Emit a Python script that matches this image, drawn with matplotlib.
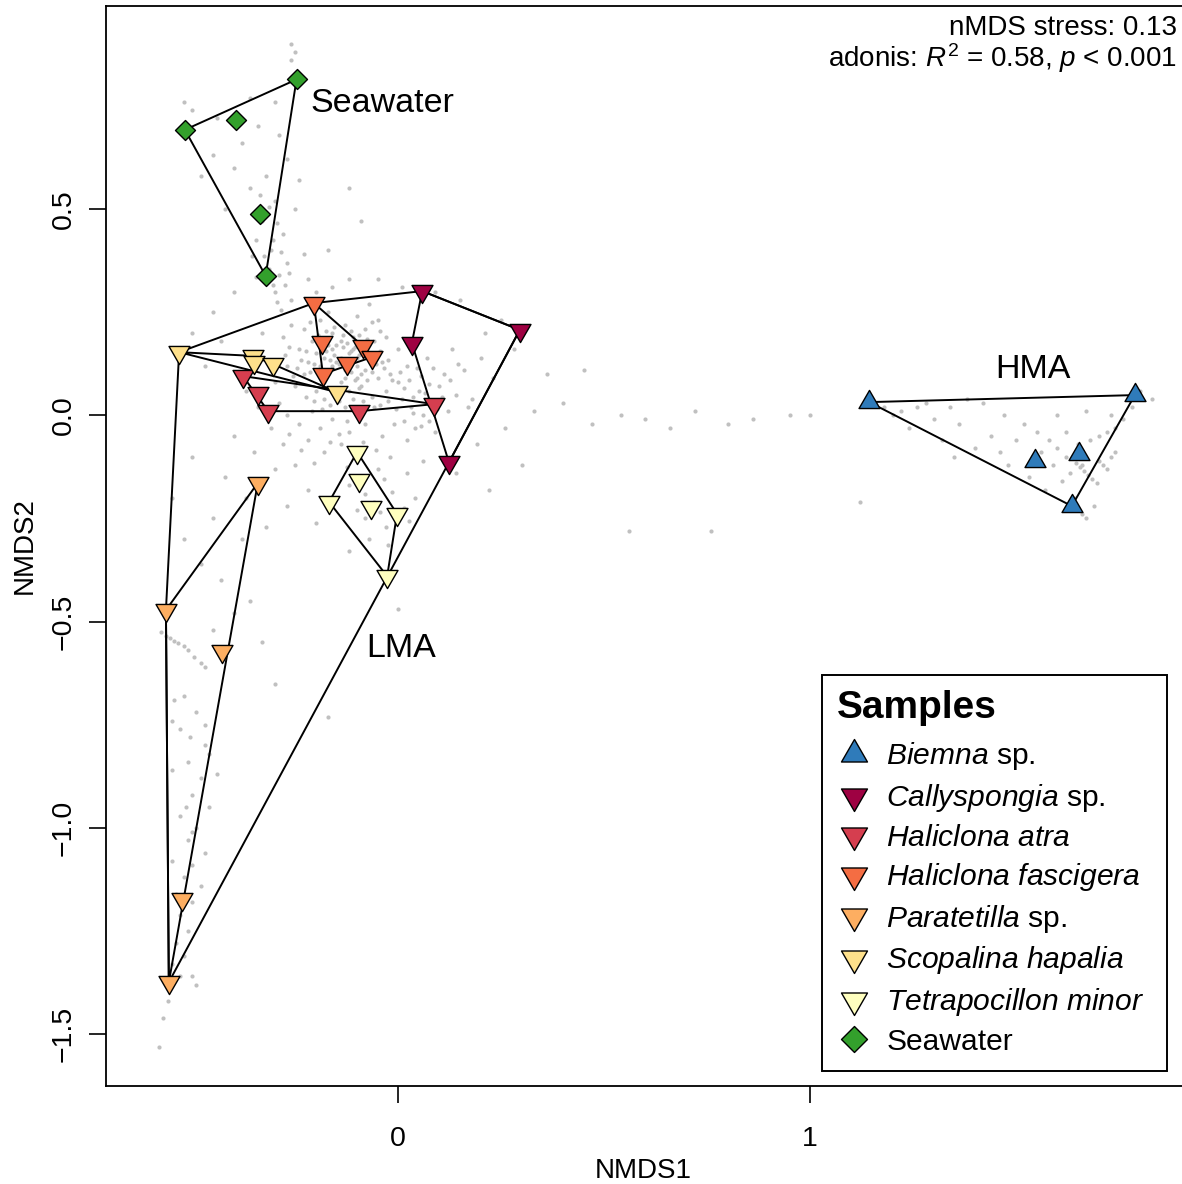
import matplotlib

matplotlib.use("Agg")
import matplotlib.pyplot as plt
import numpy as np
from matplotlib.lines import Line2D
from matplotlib.path import Path

plt.rcParams["font.family"] = "Liberation Sans"
plt.rcParams["mathtext.fontset"] = "custom"
plt.rcParams["mathtext.rm"] = "Liberation Sans"
plt.rcParams["mathtext.it"] = "Liberation Sans:italic"
plt.rcParams["mathtext.bf"] = "Liberation Sans:bold"

# nMDS sample scores (NMDS1, NMDS2)
BIEMNA_X = [1.143, 1.788, 1.545, 1.652, 1.635]
BIEMNA_Y = [0.032, 0.049, -0.111, -0.094, -0.220]

CALLYSPONGIA_X = [0.058, 0.033, 0.295, 0.123]
CALLYSPONGIA_Y = [0.301, 0.175, 0.207, -0.114]

HALICLONA_ATRA_X = [-0.377, -0.341, -0.316, -0.095, 0.087]
HALICLONA_ATRA_Y = [0.095, 0.054, 0.010, 0.010, 0.027]

HALICLONA_FASC_X = [-0.205, -0.185, -0.183, -0.125, -0.086, -0.064]
HALICLONA_FASC_Y = [0.272, 0.178, 0.100, 0.127, 0.168, 0.141]

PARATETILLA_X = [-0.341, -0.564, -0.428, -0.525, -0.557]
PARATETILLA_Y = [-0.164, -0.472, -0.571, -1.172, -1.374]

SCOPALINA_X = [-0.532, -0.353, -0.350, -0.304, -0.149]
SCOPALINA_Y = [0.153, 0.144, 0.129, 0.124, 0.056]

TETRAPOCILLON_X = [-0.100, -0.095, -0.168, -0.066, -0.003, -0.027]
TETRAPOCILLON_Y = [-0.089, -0.157, -0.210, -0.222, -0.239, -0.390]

SEAWATER_X = [-0.518, -0.247, -0.395, -0.336, -0.322]
SEAWATER_Y = [0.692, 0.814, 0.716, 0.487, 0.338]

SPECIES_LABELS = [
    r"$\mathit{Biemna}$ sp.",
    r"$\mathit{Callyspongia}$ sp.",
    r"$\mathit{Haliclona\ atra}$",
    r"$\mathit{Haliclona\ fascigera}$",
    r"$\mathit{Paratetilla}$ sp.",
    r"$\mathit{Scopalina\ hapalia}$",
    r"$\mathit{Tetrapocillon\ minor}$",
    "Seawater",
]
SPECIES_COLORS = [
    "#2F7BBA", "#9E0142", "#D53E4F", "#F46D43",
    "#FDAE61", "#FEE08B", "#FFFFBF", "#33A02C",
]
SPECIES_SHAPES = ["up", "down", "down", "down", "down", "down", "down", "diamond"]

# OTU scores (grey background points), approximate
OTU_SCORES = [
    (-0.20, 0.15), (-0.18, 0.14), (-0.16, 0.16), (-0.15, 0.13), (-0.14, 0.18),
    (-0.13, 0.11), (-0.12, 0.15), (-0.11, 0.19), (-0.10, 0.12), (-0.09, 0.16),
    (-0.17, 0.10), (-0.19, 0.12), (-0.21, 0.18), (-0.16, 0.20), (-0.14, 0.08),
    (-0.12, 0.06), (-0.10, 0.09), (-0.08, 0.11), (-0.07, 0.14), (-0.06, 0.18),
    (-0.22, 0.13), (-0.24, 0.16), (-0.23, 0.10), (-0.25, 0.07), (-0.20, 0.06),
    (-0.18, 0.04), (-0.15, 0.05), (-0.13, 0.02), (-0.11, 0.04), (-0.09, 0.07),
    (-0.05, 0.09), (-0.04, 0.13), (-0.03, 0.06), (-0.02, 0.10), (0.00, 0.08),
    (0.01, 0.04), (0.02, 0.12), (0.03, 0.02), (0.05, 0.06), (0.06, 0.00),
    (-0.27, 0.12), (-0.28, 0.19), (-0.26, 0.22), (-0.23, 0.21), (-0.19, 0.23),
    (-0.17, 0.25), (-0.13, 0.22), (-0.10, 0.24), (-0.08, 0.21), (-0.05, 0.23),
    (-0.30, 0.08), (-0.29, 0.03), (-0.27, 0.00), (-0.24, -0.02), (-0.21, 0.01),
    (-0.19, -0.03), (-0.16, -0.01), (-0.12, -0.04), (-0.08, -0.02), (-0.06, 0.02),
    (-0.04, -0.05), (-0.01, -0.02), (0.02, -0.06), (0.04, -0.03), (0.08, 0.03),
    (0.10, 0.07), (0.12, 0.01), (0.09, -0.04), (0.14, 0.05), (0.11, 0.10),
    (-0.33, 0.20), (-0.35, 0.14), (-0.37, 0.06), (-0.34, 0.02), (-0.31, -0.03),
    (-0.28, -0.07), (-0.22, -0.06), (-0.18, -0.09), (-0.14, -0.07), (-0.10, -0.10),
    (-0.07, 0.27), (-0.03, 0.19), (0.00, 0.16), (0.04, 0.18), (0.07, 0.14),
    (0.13, 0.16), (0.16, 0.11), (0.18, 0.04), (0.20, 0.14), (0.23, 0.09),
    (-0.16, 0.12), (-0.14, 0.14), (-0.12, 0.13), (-0.15, 0.17), (-0.11, 0.16),
    (-0.13, 0.09), (-0.17, 0.17), (-0.10, 0.14), (-0.09, 0.10), (-0.18, 0.08),
    (-0.135, 0.165), (-0.125, 0.175), (-0.115, 0.155), (-0.105, 0.165), (-0.095, 0.145),
    (-0.085, 0.175), (-0.145, 0.125), (-0.155, 0.145), (-0.165, 0.135), (-0.175, 0.155),
    (-0.185, 0.165), (-0.195, 0.175), (-0.205, 0.125), (-0.215, 0.105), (-0.225, 0.155),
    (-0.235, 0.135), (-0.245, 0.115), (-0.255, 0.095), (-0.265, 0.165), (-0.275, 0.145),
    (-0.125, 0.125), (-0.115, 0.105), (-0.105, 0.085), (-0.095, 0.065), (-0.075, 0.085),
    (-0.065, 0.105), (-0.055, 0.125), (-0.045, 0.155), (-0.035, 0.115), (-0.025, 0.135),
    (-0.015, 0.085), (0.005, 0.105), (0.015, 0.065), (0.025, 0.085), (0.035, 0.045),
    (0.045, 0.115), (0.055, 0.095), (0.065, 0.055), (0.075, 0.075), (0.085, 0.115),
    (-0.135, 0.195), (-0.155, 0.215), (-0.175, 0.205), (-0.195, 0.195), (-0.215, 0.225),
    (-0.115, 0.205), (-0.095, 0.195), (-0.075, 0.185), (-0.065, 0.225), (-0.045, 0.205),
    (-0.145, 0.035), (-0.165, 0.025), (-0.185, 0.015), (-0.205, 0.035), (-0.225, 0.045),
    (-0.125, -0.015), (-0.105, 0.015), (-0.085, 0.035), (-0.065, 0.045), (-0.045, 0.025),
    (-0.025, 0.035), (-0.005, 0.015), (0.015, -0.015), (0.035, 0.005), (0.055, -0.025),
    (0.075, -0.015), (0.095, 0.015), (0.105, 0.045), (0.125, 0.085), (0.145, 0.125),
    (-0.29, 0.34), (-0.27, 0.37), (-0.30, 0.30), (-0.26, 0.28), (-0.31, 0.40),
    (-0.28, 0.44), (-0.33, 0.47), (-0.30, 0.52), (-0.25, 0.50), (-0.36, 0.55),
    (-0.32, 0.58), (-0.40, 0.60), (-0.45, 0.63), (-0.38, 0.66), (-0.34, 0.70),
    (-0.44, 0.72), (-0.50, 0.74), (-0.52, 0.76), (-0.30, 0.76), (-0.27, 0.62),
    (-0.36, 0.77), (-0.42, 0.50), (-0.48, 0.58), (-0.29, 0.68), (-0.24, 0.57),
    (-0.22, 0.33), (-0.23, 0.39), (-0.20, 0.30), (-0.16, 0.31), (-0.12, 0.33),
    (-0.26, 0.90), (-0.25, 0.88), (-0.26, 0.86), (-0.12, 0.55), (-0.09, 0.47),
    (-0.17, 0.40), (-0.05, 0.33), (0.01, 0.31), (0.09, 0.30), (0.15, 0.28),
    (0.25, 0.23), (0.21, 0.20), (0.28, 0.16), (-0.40, 0.30), (-0.45, 0.25),
    (-0.50, 0.20), (-0.43, 0.18), (-0.47, 0.12),
    (-0.285, 0.255), (-0.295, 0.275), (-0.305, 0.315), (-0.315, 0.355), (-0.325, 0.385),
    (-0.305, 0.425), (-0.295, 0.465), (-0.315, 0.505), (-0.335, 0.535), (-0.285, 0.395),
    (-0.275, 0.315), (-0.265, 0.345), (-0.345, 0.425), (-0.355, 0.385), (-0.345, 0.335),
    (-0.40, -0.05), (-0.35, -0.09), (-0.30, -0.13), (-0.25, -0.12), (-0.22, -0.18),
    (-0.27, -0.22), (-0.32, -0.27), (-0.37, -0.20), (-0.42, -0.15), (-0.45, -0.25),
    (-0.20, -0.26), (-0.15, -0.20), (-0.12, -0.17), (-0.08, -0.19), (-0.05, -0.13),
    (-0.02, -0.10), (0.02, -0.14), (-0.03, -0.27), (-0.07, -0.30), (-0.12, -0.33),
    (-0.06, -0.21), (-0.08, -0.25), (-0.10, -0.23), (0.04, -0.20), (0.06, -0.11),
    (-0.38, -0.30), (-0.48, -0.36), (-0.52, -0.30), (-0.55, -0.20), (-0.50, -0.10),
    (-0.43, -0.40), (-0.40, -0.48), (-0.36, -0.45), (-0.33, -0.55), (-0.45, -0.52),
    (-0.30, -0.65), (0.00, -0.47), (-0.17, -0.73),
    (-0.145, -0.045), (-0.165, -0.065), (-0.115, -0.085), (-0.085, -0.065), (-0.055, -0.085),
    (-0.035, -0.155), (-0.015, -0.185), (0.015, -0.225), (-0.125, -0.125), (-0.205, -0.115),
    (-0.235, -0.085), (-0.265, -0.045), (-0.045, -0.235), (-0.025, -0.315), (0.025, -0.255),
    (-0.575, -0.525), (-0.565, -0.535), (-0.555, -0.540), (-0.545, -0.548),
    (-0.535, -0.553), (-0.52, -0.56), (-0.51, -0.57), (-0.495, -0.585),
    (-0.48, -0.60), (-0.47, -0.61),
    (-0.52, -0.68), (-0.49, -0.72), (-0.53, -0.76), (-0.47, -0.80), (-0.51, -0.84),
    (-0.55, -0.86), (-0.48, -0.88), (-0.50, -0.92), (-0.46, -0.95), (-0.53, -0.97),
    (-0.49, -1.00), (-0.51, -1.03), (-0.47, -1.06), (-0.50, -1.09), (-0.52, -1.12),
    (-0.48, -1.14), (-0.50, -1.18), (-0.53, -1.21), (-0.51, -1.25), (-0.54, -1.28),
    (-0.52, -1.31), (-0.55, -1.33), (-0.53, -1.36), (-0.56, -1.42), (-0.57, -1.46),
    (-0.58, -1.53), (-0.49, -1.38), (-0.50, -1.36), (-0.44, -0.87), (-0.47, -0.75),
    (-0.515, -0.95), (-0.50, -1.01), (-0.505, -0.78), (-0.46, -0.82), (-0.545, -0.69),
    (-0.55, -1.08), (-0.54, -1.16), (-0.55, -0.74),
    (0.17, 0.02), (0.26, -0.03), (0.33, 0.01), (0.40, 0.03), (0.47, -0.02),
    (0.54, 0.00), (0.60, -0.01), (0.66, -0.03), (0.72, 0.01), (0.80, -0.02),
    (0.86, -0.01), (0.95, 0.00), (1.00, 0.00), (0.56, -0.28), (0.76, -0.28),
    (0.30, -0.12), (0.22, -0.18), (0.36, 0.10), (0.45, 0.11), (0.14, -0.14),
    (0.19, -0.07), (1.12, -0.21),
    (1.13, 0.03), (1.18, 0.02), (1.22, 0.01), (1.20, 0.00), (1.26, 0.02),
    (1.30, -0.01), (1.24, -0.03), (1.28, 0.03), (1.34, 0.02), (1.38, 0.04),
    (1.42, 0.03), (1.47, 0.00), (1.52, -0.02), (1.55, -0.04), (1.58, -0.06),
    (1.60, -0.08), (1.62, -0.10), (1.65, -0.07), (1.68, -0.06), (1.70, -0.05),
    (1.72, -0.04), (1.74, -0.03), (1.66, -0.12), (1.63, -0.14), (1.61, -0.16),
    (1.59, -0.12), (1.56, -0.09), (1.50, -0.06), (1.44, -0.05), (1.40, -0.08),
    (1.35, -0.10), (1.32, -0.06), (1.48, -0.12), (1.53, -0.15), (1.57, -0.18),
    (1.64, -0.20), (1.66, -0.24), (1.67, -0.25), (1.69, -0.22), (1.78, 0.02),
    (1.80, 0.06), (1.83, 0.04), (1.76, -0.01), (1.73, 0.00), (1.62, -0.04),
    (1.67, 0.01), (1.60, 0.00), (1.36, -0.02), (1.46, -0.09),
    (1.655, -0.125), (1.665, -0.135), (1.675, -0.145), (1.685, -0.155), (1.695, -0.165),
    (1.70, -0.11), (1.71, -0.12), (1.72, -0.13), (1.73, -0.10), (1.74, -0.09),
    (1.645, -0.115),
]

GROUP_LABELS = ["Seawater", "HMA", "LMA"]
GROUP_LABEL_X = [-0.214, 1.540, 0.007]
GROUP_LABEL_Y = [0.755, 0.110, -0.566]

# R-style markers: centred on the circumcentre like pch 24/25/23
TRI_UP = Path([(0, 1), (0.866, -0.5), (-0.866, -0.5), (0, 1)], closed=True)
TRI_DOWN = Path([(0, -1), (0.866, 0.5), (-0.866, 0.5), (0, -1)], closed=True)
DIAMOND = Path([(0, 1), (1, 0), (0, -1), (-1, 0), (0, 1)], closed=True)
SHAPE_PATH = {"up": TRI_UP, "down": TRI_DOWN, "diamond": DIAMOND}


def convex_hull(xs, ys):
    pts = sorted(set(zip(xs, ys)))

    def cross(o, a, b):
        return (a[0] - o[0]) * (b[1] - o[1]) - (a[1] - o[1]) * (b[0] - o[0])

    lower = []
    for p in pts:
        while len(lower) >= 2 and cross(lower[-2], lower[-1], p) <= 0:
            lower.pop()
        lower.append(p)
    upper = []
    for p in reversed(pts):
        while len(upper) >= 2 and cross(upper[-2], upper[-1], p) <= 0:
            upper.pop()
        upper.append(p)
    hull = lower[:-1] + upper[:-1]
    hull.append(hull[0])
    return [p[0] for p in hull], [p[1] for p in hull]


species_x = [BIEMNA_X, CALLYSPONGIA_X, HALICLONA_ATRA_X, HALICLONA_FASC_X,
             PARATETILLA_X, SCOPALINA_X, TETRAPOCILLON_X, SEAWATER_X]
species_y = [BIEMNA_Y, CALLYSPONGIA_Y, HALICLONA_ATRA_Y, HALICLONA_FASC_Y,
             PARATETILLA_Y, SCOPALINA_Y, TETRAPOCILLON_Y, SEAWATER_Y]

fig = plt.figure(figsize=(11.82, 11.84), dpi=100)
ax = fig.add_axes([106 / 1182, 98 / 1184, 1082 / 1182, 1080 / 1184])
ax.set_xlim(-0.7095, 1.917)
ax.set_ylim(-1.6255, 0.992)

otu = np.array(OTU_SCORES)
ax.scatter(otu[:, 0], otu[:, 1], s=9, color="#c0c0c0", linewidths=0, zorder=1)

# hulls per species
for xs, ys in zip(species_x, species_y):
    hx, hy = convex_hull(xs, ys)
    ax.plot(hx, hy, color="black", lw=1.4, zorder=2)

# hull around all LMA sponges
lma_x = sum(species_x[1:7], [])
lma_y = sum(species_y[1:7], [])
hx, hy = convex_hull(lma_x, lma_y)
ax.plot(hx, hy, color="black", lw=1.4, zorder=2)

for xs, ys, color, shape in zip(species_x, species_y, SPECIES_COLORS, SPECIES_SHAPES):
    size = 207 if shape == "diamond" else 303
    ax.scatter(xs, ys, s=size, marker=SHAPE_PATH[shape], facecolor=color,
               edgecolor="black", linewidths=1.0, zorder=3)

for label, x, y in zip(GROUP_LABELS, GROUP_LABEL_X, GROUP_LABEL_Y):
    ha = "left" if label == "Seawater" else "center"
    ax.text(x, y, label, fontsize=24.5, ha=ha, va="center", zorder=4)

ax.text(1.89, 0.939, "nMDS stress: 0.13", fontsize=20, ha="right", va="center")
ax.text(1.89, 0.866, r"adonis: $\mathit{R}^2$ = 0.58, $\mathit{p}$ < 0.001",
        fontsize=20, ha="right", va="center")

ax.set_xticks([0, 1])
ax.set_yticks([-1.5, -1.0, -0.5, 0.0, 0.5])
ax.tick_params(axis="both", length=12.5, width=1.2, labelsize=20.5)
ax.tick_params(axis="x", pad=16.5)
ax.tick_params(axis="y", pad=8.5, labelrotation=90)
for lab in ax.get_yticklabels():
    lab.set_va("center")
for spine in ax.spines.values():
    spine.set_linewidth(1.3)

ax.set_xlabel("NMDS1", fontsize=20)
ax.xaxis.set_label_coords((643 - 106) / 1082, -(1158 - 1086) / 1080)
ax.set_ylabel("NMDS2", fontsize=20)
ax.yaxis.set_label_coords(-(106 - 38) / 1082, 0.5)

handles = []
for color, shape in zip(SPECIES_COLORS, SPECIES_SHAPES):
    handles.append(Line2D([], [], linestyle="none", marker=SHAPE_PATH[shape],
                          markersize=18.7 if shape == "diamond" else 21.6,
                          markerfacecolor=color, markeredgecolor="black",
                          markeredgewidth=1.0))

leg = ax.legend(
    handles, SPECIES_LABELS, title="Samples",
    loc="upper left", mode="expand",
    bbox_to_anchor=(822 / 1182, 1 - 675 / 1184 - 0.01, 345 / 1182, 0.01),
    bbox_transform=fig.transFigure, borderaxespad=0,
    fontsize=21.6, title_fontproperties={"weight": "bold", "size": 28},
    alignment="left", fancybox=False, framealpha=1, edgecolor="black",
    borderpad=0.5, labelspacing=0.32, handlelength=1.1, handletextpad=0.55,
)
leg.get_frame().set_linewidth(1.4)
# a bit more room between the title and the first entry
leg._legend_box.sep = 10.4

fig.savefig("out.png", dpi=100)
